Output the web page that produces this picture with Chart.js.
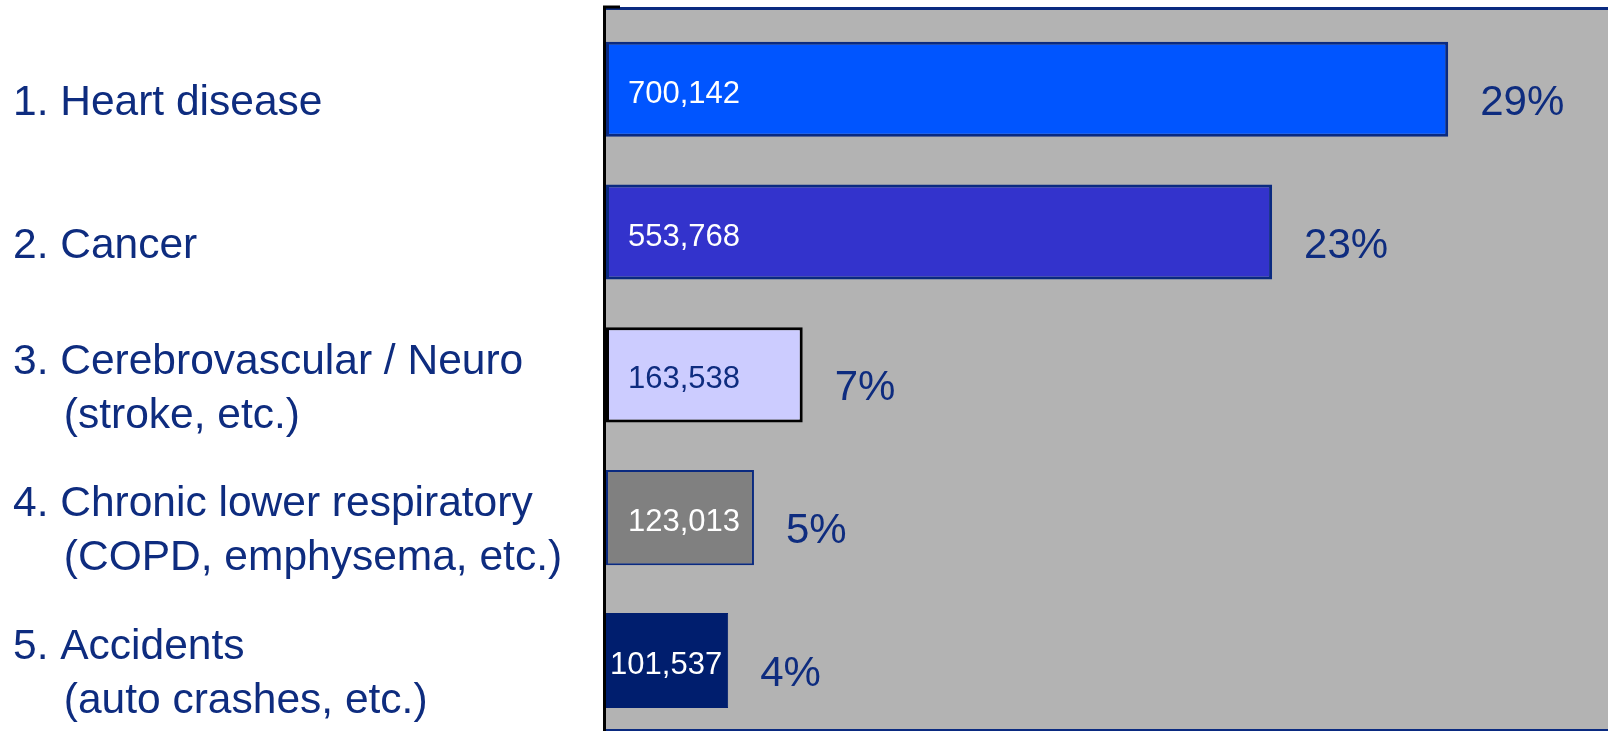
<!DOCTYPE html>
<html>
<head>
<meta charset="utf-8">
<script src="https://cdn.jsdelivr.net/npm/chart.js@4"></script>
<style>
  html, body { margin: 0; padding: 0; background: #ffffff; }
  #wrap { width: 1608px; height: 731px; position: relative; }
</style>
</head>
<body>
<div id="wrap"><canvas id="causes-chart"></canvas></div>
<script>
// leading causes of death, counts and share of all deaths
const causes = [
  ["1. Heart disease"],
  ["2. Cancer"],
  ["3. Cerebrovascular / Neuro", "    \u200A(stroke, etc.)"],
  ["4. Chronic lower respiratory", "    \u200A(COPD, emphysema, etc.)"],
  ["5. Accidents", "    \u200A(auto crashes, etc.)"],
];
const deaths = [700142, 553768, 163538, 123013, 101537];
const shares = [29, 23, 7, 5, 4];

const fillColors = ["#0055ff", "#3333cc", "#ccccff", "#808080", "#001e6e"];
const edgeColors = ["#0a2a80", "#0a2a80", "#000000", "#0a2a80", "#001e6e"];
const valueColors = ["#ffffff", "#ffffff", "#0e2c7f", "#ffffff", "#ffffff"];
const navy = "#0e2c7f";
const fontFamily = '"Liberation Sans", Arial, sans-serif';

// grey plot box with the dark edges
const plotFrame = {
  id: "plotFrame",
  beforeDatasetsDraw(chart) {
    const { ctx, chartArea: a } = chart;
    ctx.save();
    ctx.fillStyle = "#b3b3b3";
    ctx.fillRect(a.left, a.top, a.right - a.left, a.bottom - a.top);
    ctx.lineWidth = 3;
    ctx.strokeStyle = "#0a2a80";
    ctx.beginPath();
    ctx.moveTo(a.left - 3, a.top - 1.5);
    ctx.lineTo(a.right, a.top - 1.5);
    ctx.stroke();
    ctx.lineWidth = 2;
    ctx.beginPath();
    ctx.moveTo(a.left, a.bottom + 1);
    ctx.lineTo(a.right, a.bottom + 1);
    ctx.stroke();
    ctx.lineWidth = 3;
    ctx.strokeStyle = "#000000";
    ctx.beginPath();
    ctx.moveTo(a.left + 14, a.top - 3);
    ctx.lineTo(a.left - 1.5, a.top - 3);
    ctx.lineTo(a.left - 1.5, a.bottom + 2);
    ctx.stroke();
    ctx.restore();
  },
};

// counts inside the bars, percentages after them
const barLabels = {
  id: "barLabels",
  afterDatasetsDraw(chart) {
    const ctx = chart.ctx;
    const meta = chart.getDatasetMeta(0);
    ctx.save();
    ctx.textAlign = "left";
    ctx.textBaseline = "middle";
    meta.data.forEach((bar, i) => {
      const text = deaths[i].toLocaleString("en-US");
      ctx.font = "31px " + fontFamily;
      const w = ctx.measureText(text).width;
      let x = bar.base + 22;
      if (x + w > bar.x - 6) x = bar.x - 6 - w;
      ctx.fillStyle = valueColors[i];
      ctx.fillText(text, x, bar.y + 5);

      ctx.font = "42px " + fontFamily;
      ctx.fillStyle = navy;
      ctx.fillText(shares[i] + "%", bar.x + 32, bar.y + 14);
    });
    ctx.restore();
  },
};

const ctx = document.getElementById("causes-chart").getContext("2d");
new Chart(ctx, {
  type: "bar",
  data: {
    datasets: [
      {
        data: deaths.map((v, i) => ({ x: v, y: i })),
        backgroundColor: fillColors,
        borderColor: edgeColors,
        borderWidth: [3, 3, 3, 2, 1],
        borderSkipped: false,
        categoryPercentage: 1,
        barPercentage: 0.666,
      },
    ],
  },
  options: {
    indexAxis: "y",
    responsive: true,
    maintainAspectRatio: false,
    animation: false,
    layout: { padding: { left: 13, top: 10, bottom: 2, right: 0 } },
    plugins: {
      legend: { display: false },
      tooltip: { enabled: false },
    },
    scales: {
      x: {
        type: "linear",
        display: false,
        min: 0,
        max: 833000,
      },
      y: {
        type: "linear",
        reverse: true,
        offset: false,
        min: -0.555,
        max: 4.48,
        grid: { display: false, offset: false },
        border: { display: false },
        afterBuildTicks(scale) {
          scale.ticks = causes.map((c, i) => ({ value: i }));
        },
        afterFit(scale) {
          scale.width = 593;
          scale.paddingTop = 0;
          scale.paddingBottom = 0;
        },
        ticks: {
          crossAlign: "far",
          labelOffset: 14,
          color: navy,
          font: { family: fontFamily, size: 42.5, lineHeight: 1.27 },
          callback: (value) => causes[value],
        },
      },
    },
  },
  plugins: [plotFrame, barLabels],
});
</script>
</body>
</html>
